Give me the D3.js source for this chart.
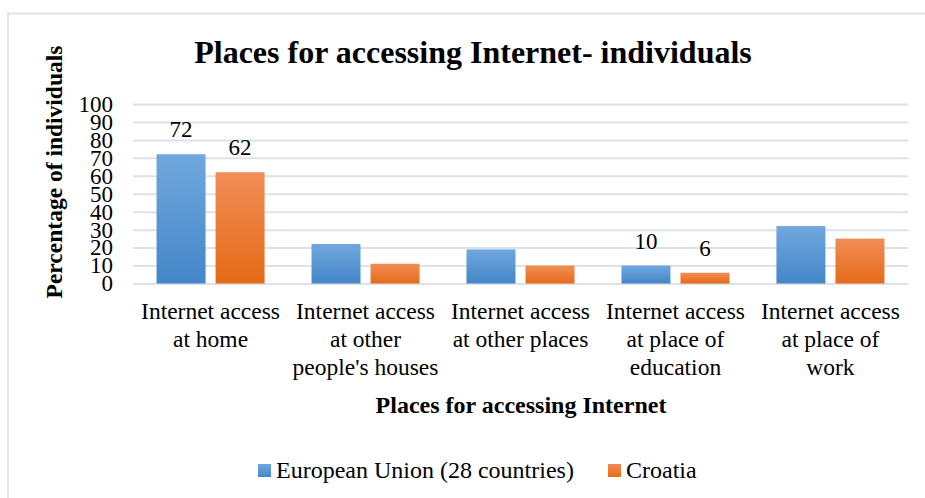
<!DOCTYPE html>
<html>
<head>
<meta charset="utf-8">
<script src="https://cdn.jsdelivr.net/npm/d3@7"></script>
<style>
  body { margin: 0; background: #fff; }
  text { font-family: "Liberation Serif", "Times New Roman", serif; fill: #000; }
</style>
</head>
<body>
<svg></svg>
<script>
//Chart data
const categories = [
  "Internet access\nat home",
  "Internet access\nat other\npeople's houses",
  "Internet access\nat other places",
  "Internet access\nat place of\neducation",
  "Internet access\nat place of\nwork"
];
const seriesNames = ["European Union (28 countries)", "Croatia"];
const euValues = [72, 22, 19, 10, 32];
const hrValues = [62, 11, 10, 6, 25];
const yTicks = [0, 10, 20, 30, 40, 50, 60, 70, 80, 90, 100];
//categories which carry value labels
const labelled = [0, 3];

const width = 925;
const height = 498;

const svg = d3.select("svg")
  .attr("width", width)
  .attr("height", height);

//gradients like the office fill
const defs = svg.append("defs");
const grads = [
  {id: "gEU", top: "#71a7de", bottom: "#4486c8"},
  {id: "gHR", top: "#f18d57", bottom: "#e56b17"}
];
grads.forEach(g => {
  const lg = defs.append("linearGradient")
    .attr("id", g.id)
    .attr("x1", 0).attr("y1", 0).attr("x2", 0).attr("y2", 1);
  lg.append("stop").attr("offset", "0%").attr("stop-color", g.top);
  lg.append("stop").attr("offset", "100%").attr("stop-color", g.bottom);
});

//chart frame (left and top edges visible)
svg.append("line")
  .attr("x1", 8).attr("x2", 8).attr("y1", 13.5).attr("y2", height)
  .attr("stroke", "#e3e3e3").attr("stroke-width", 2);
svg.append("line")
  .attr("x1", 7).attr("x2", width).attr("y1", 13.5).attr("y2", 13.5)
  .attr("stroke", "#e3e3e3").attr("stroke-width", 2);

//scales
const x0 = d3.scaleBand()
  .domain(categories)
  .range([133, 908])
  .paddingInner(0.303)
  .paddingOuter(0.152);

const x1 = d3.scaleBand()
  .domain(seriesNames)
  .range([0, x0.bandwidth()])
  .paddingInner(0.17);

const y = d3.scaleLinear()
  .domain([0, 100])
  .range([283.5, 104]);

//gridlines
const grid = svg.append("g")
  .attr("transform", "translate(133,0)")
  .call(d3.axisLeft(y).tickValues(yTicks).tickSize(-775).tickFormat(""));
grid.select(".domain").remove();
grid.selectAll("line").attr("stroke", "#dde2e8").attr("stroke-width", 2);

//y axis labels
const yAxis = svg.append("g")
  .attr("transform", "translate(133,0)")
  .call(d3.axisLeft(y).tickValues(yTicks).tickSize(0).tickPadding(20));
yAxis.select(".domain").remove();
yAxis.selectAll("text")
  .attr("font-size", 23)
  .attr("font-family", "Liberation Serif")
  .attr("fill", "#000");

//bars
const seriesValues = [euValues, hrValues];
const fills = ["url(#gEU)", "url(#gHR)"];

const groups = svg.selectAll("g.cat")
  .data(categories)
  .enter().append("g")
  .attr("class", "cat")
  .attr("transform", d => `translate(${x0(d)},0)`);

groups.selectAll("rect")
  .data((d, i) => seriesNames.map((s, j) => ({series: s, value: seriesValues[j][i], idx: j, cat: i})))
  .enter().append("rect")
  .attr("x", d => x1(d.series))
  .attr("y", d => y(d.value))
  .attr("width", x1.bandwidth())
  .attr("height", d => y(0) - y(d.value))
  .attr("fill", d => fills[d.idx]);

//value labels
groups.selectAll("text.val")
  .data((d, i) => labelled.includes(i)
    ? seriesNames.map((s, j) => ({series: s, value: seriesValues[j][i]}))
    : [])
  .enter().append("text")
  .attr("class", "val")
  .attr("x", d => x1(d.series) + x1.bandwidth() / 2)
  .attr("y", d => y(d.value) - 17)
  .attr("text-anchor", "middle")
  .attr("font-size", 23)
  .text(d => d.value);

//category labels
const catLabels = svg.selectAll("text.cat")
  .data(categories)
  .enter().append("text")
  .attr("class", "cat")
  .attr("x", d => x0(d) + x0.bandwidth() / 2)
  .attr("y", 319)
  .attr("text-anchor", "middle")
  .attr("font-size", 23.5);
catLabels.selectAll("tspan")
  .data(d => d.split("\n"))
  .enter().append("tspan")
  .attr("x", function() { return this.parentNode.getAttribute("x"); })
  .attr("dy", (d, i) => i === 0 ? 0 : 28)
  .text(d => d);

//title
svg.append("text")
  .attr("x", 473)
  .attr("y", 63)
  .attr("text-anchor", "middle")
  .attr("font-size", 32)
  .attr("font-weight", "bold")
  .text("Places for accessing Internet- individuals");

//axis titles
svg.append("text")
  .attr("x", 521)
  .attr("y", 413)
  .attr("text-anchor", "middle")
  .attr("font-size", 24)
  .attr("font-weight", "bold")
  .text("Places for accessing Internet");

svg.append("text")
  .attr("transform", "translate(62,172) rotate(-90)")
  .attr("text-anchor", "middle")
  .attr("font-size", 23.5)
  .attr("font-weight", "bold")
  .text("Percentage of individuals");

//legend
const legendX = [258, 608];
const legend = svg.selectAll("g.legend")
  .data(seriesNames)
  .enter().append("g")
  .attr("class", "legend")
  .attr("transform", (d, i) => `translate(${legendX[i]},470)`);
legend.append("rect")
  .attr("x", 0).attr("y", -6)
  .attr("width", 13).attr("height", 13)
  .attr("fill", (d, i) => fills[i]);
legend.append("text")
  .attr("x", 18)
  .attr("y", 7.5)
  .attr("font-size", 24)
  .text(d => d);
</script>
</body>
</html>
